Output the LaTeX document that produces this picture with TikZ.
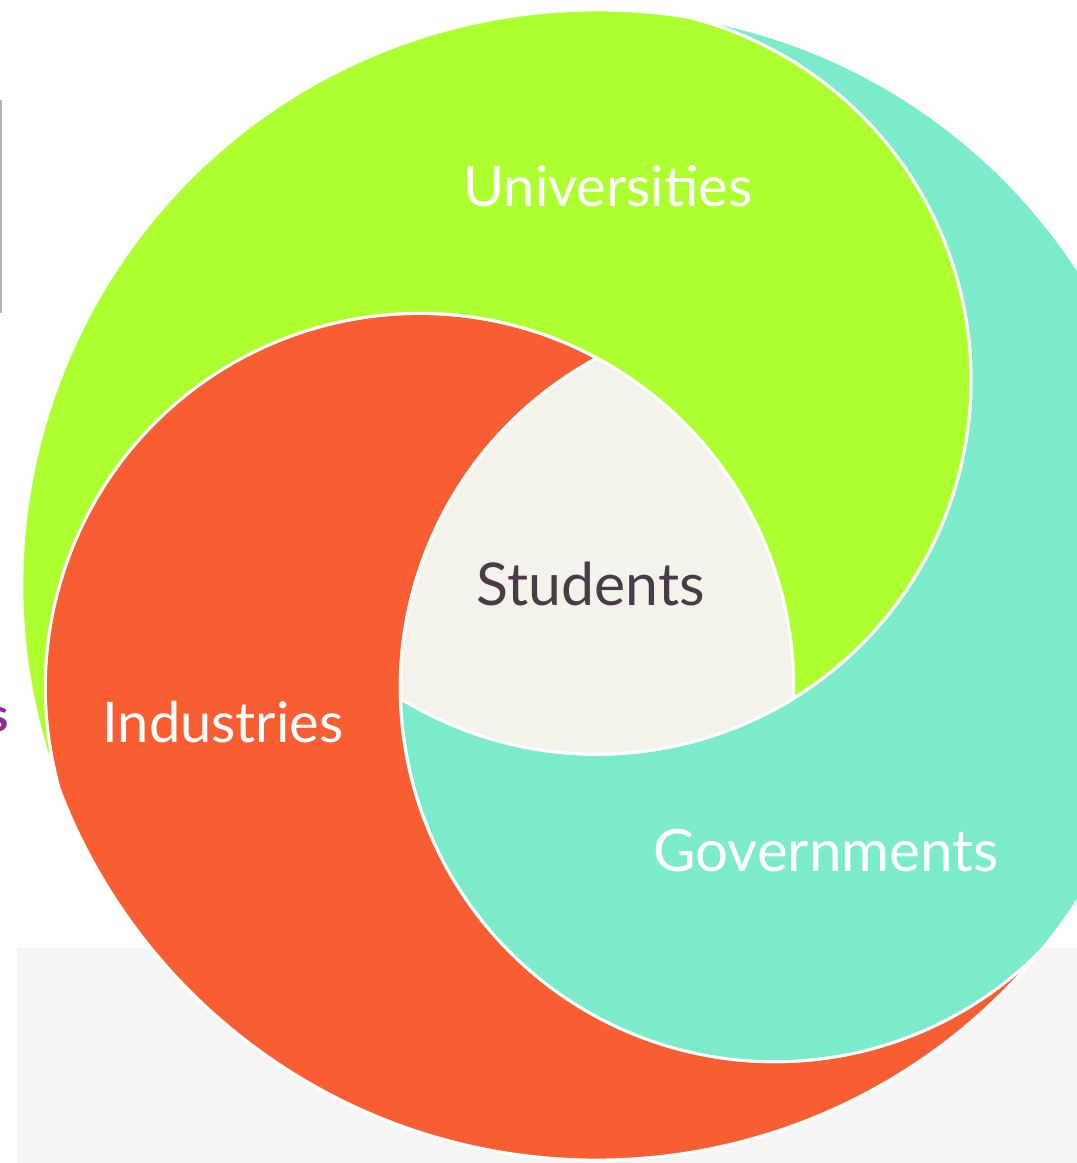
\documentclass[tikz,border=0pt]{standalone}
\usepackage{fontspec}
\setmainfont{Lato}
\usepackage{xcolor}
\usetikzlibrary{positioning}
\definecolor{uniGreen}{HTML}{ADFF2F}
\definecolor{govTeal}{HTML}{7BEBCC}
\definecolor{indOrange}{HTML}{F95E33}
\definecolor{stuCream}{HTML}{F4F3EB}
\definecolor{stuText}{HTML}{4A3C46}
\definecolor{paleGrey}{HTML}{F5F5F3}
\definecolor{cutPurple}{HTML}{8E2A96}
\newcommand{\rin}{374.2}
\newcommand{\rout}{575}

\begin{document}
\begin{tikzpicture}[x=0.5pt,y=0.5pt,
    swirl/.style={draw=white,line width=1.5pt},
    lbl/.style={text=white,inner sep=0pt,anchor=base,font=\fontsize{28}{28}\selectfont}]
            \useasboundingbox (-597,-578) rectangle (480,585);
            % grey band and the thin rule at the left
            \fill[paleGrey] (-580,-363) rectangle (480,-578);
            \draw[gray!60,line width=0.6pt] (-596,485) -- (-596,272);
            % the three swirls, each one turned by 120 degrees
            \foreach \col/\ang in {indOrange/0, uniGreen/-120, govTeal/120}
                \filldraw[swirl,fill=\col,rotate=\ang] (90:226.9)
                    arc[start angle=118.32,end angle=315.54,radius=\rin]
                    arc[start angle=-39.34,end angle=-159.34,radius=\rout]
                    arc[start angle=195.56,end angle=61.68,radius=\rin] -- cycle;
            % curved triangle in the middle
            \filldraw[swirl,fill=stuCream] (90:226.9)
                arc[start angle=118.32,end angle=181.68,radius=\rin]
                arc[start angle=238.32,end angle=301.68,radius=\rin]
                arc[start angle=-1.68,end angle=61.68,radius=\rin] -- cycle;
            % labels
            \node[lbl] (univ) at (11,378) {Universities};
            \node[lbl] (ind) at (-374,-157) {Industries};
            \node[lbl,font=\fontsize{29.2}{29.2}\selectfont] (gov) at (229,-286) {Governments};
            \node[lbl,text=stuText,font=\fontsize{29.5}{29.5}\selectfont] (stud) at (-6,-20) {Students};
            \node[anchor=base east,inner sep=0pt,text=cutPurple,font=\bfseries\fontsize{23}{23}\selectfont] (cut) at (-588,-146) {s};
\end{tikzpicture}
\end{document}
